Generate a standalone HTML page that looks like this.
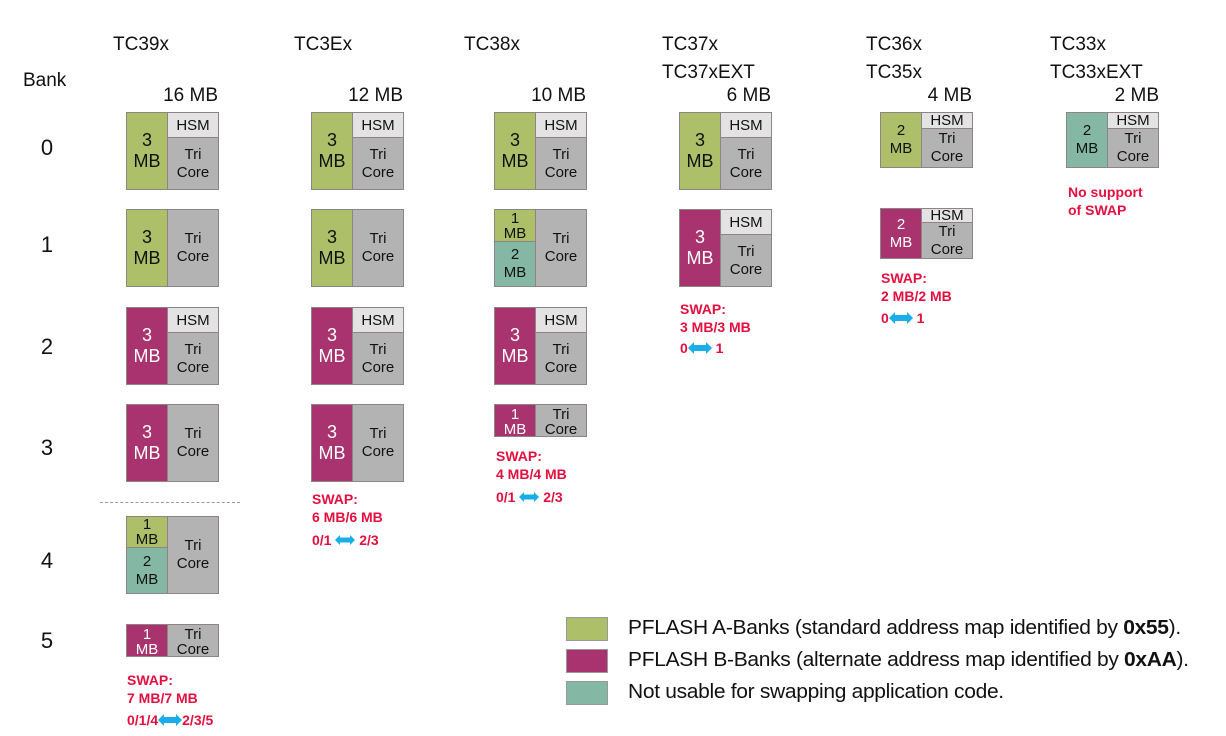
<!DOCTYPE html>
<html><head><meta charset="utf-8">
<style>
body{margin:0;width:1226px;height:736px;background:#fff;position:relative;overflow:hidden;font-family:"Liberation Sans",Arial,sans-serif;}
.t{position:absolute;font-size:19px;color:#111;white-space:nowrap;}
.bn{position:absolute;font-size:22px;color:#111;width:30px;text-align:center;}
.sz{position:absolute;font-size:19px;color:#111;text-align:right;white-space:nowrap;}
.b{position:absolute;width:93px;border:1.5px solid #8e8484;box-sizing:border-box;background:#b3b3b3;overflow:hidden;}
.p{position:absolute;display:flex;align-items:center;justify-content:center;text-align:center;color:#111;overflow:hidden;box-sizing:border-box;}
.l{left:0;width:41px;border-right:1.5px solid #8e8484;font-size:18px;line-height:21px;}
.r{left:41px;right:0;font-size:15px;line-height:18px;}
.h{left:41px;right:0;top:0;background:#e3e3e3;font-size:15px;border-bottom:1.5px solid #8e8484;}
.g{background:#adbf69;}
.m{background:#a8336f;color:#fff;}
.c{background:#84b8a4;}
.sw{position:absolute;color:#e3103f;font-weight:bold;font-size:14px;line-height:18px;white-space:nowrap;}
.lg{position:absolute;left:566px;width:42px;height:24px;border:1px solid #999;box-sizing:border-box;}
.lt{position:absolute;left:628px;font-size:20px;color:#111;white-space:nowrap;letter-spacing:-0.3px;transform:scaleX(1.05);transform-origin:0 0;}
</style></head><body>

<div class="t" style="left:113px;top:34px">TC39x</div>
<div class="t" style="left:294px;top:34px">TC3Ex</div>
<div class="t" style="left:464px;top:34px">TC38x</div>
<div class="t" style="left:662px;top:34px">TC37x</div>
<div class="t" style="left:662px;top:62px">TC37xEXT</div>
<div class="t" style="left:866px;top:34px">TC36x</div>
<div class="t" style="left:866px;top:62px">TC35x</div>
<div class="t" style="left:1050px;top:34px">TC33x</div>
<div class="t" style="left:1050px;top:62px">TC33xEXT</div>
<div class="t" style="left:23px;top:70px">Bank</div>

<div class="sz" style="right:1008px;top:85px">16 MB</div>
<div class="sz" style="right:823px;top:85px">12 MB</div>
<div class="sz" style="right:640px;top:85px">10 MB</div>
<div class="sz" style="right:455px;top:85px">6 MB</div>
<div class="sz" style="right:254px;top:85px">4 MB</div>
<div class="sz" style="right:67px;top:85px">2 MB</div>

<div class="bn" style="left:32px;top:135px">0</div>
<div class="bn" style="left:32px;top:232px">1</div>
<div class="bn" style="left:32px;top:334px">2</div>
<div class="bn" style="left:32px;top:435px">3</div>
<div class="bn" style="left:32px;top:548px">4</div>
<div class="bn" style="left:32px;top:628px">5</div>

<div style="position:absolute;left:100px;top:502px;width:140px;border-top:1px dashed #999"></div>

<!-- TC39x -->
<div class="b" style="left:126px;top:112px;height:78px"><div class="p l g" style="top:0;height:100%">3<br>MB</div><div class="p h" style="height:25px">HSM</div><div class="p r" style="top:25px;bottom:0">Tri<br>Core</div></div>
<div class="b" style="left:126px;top:209px;height:78px"><div class="p l g" style="top:0;height:100%">3<br>MB</div><div class="p r" style="top:0;bottom:0">Tri<br>Core</div></div>
<div class="b" style="left:126px;top:307px;height:78px"><div class="p l m" style="top:0;height:100%">3<br>MB</div><div class="p h" style="height:25px">HSM</div><div class="p r" style="top:25px;bottom:0">Tri<br>Core</div></div>
<div class="b" style="left:126px;top:404px;height:78px"><div class="p l m" style="top:0;height:100%">3<br>MB</div><div class="p r" style="top:0;bottom:0">Tri<br>Core</div></div>
<div class="b" style="left:126px;top:516px;height:78px"><div class="p l g" style="top:0;height:31px;font-size:15px;line-height:15px;border-bottom:1.5px solid #8e8484">1<br>MB</div><div class="p l c" style="top:31px;bottom:0;font-size:15px;line-height:18px">2<br>MB</div><div class="p r" style="top:0;bottom:0">Tri<br>Core</div></div>
<div class="b" style="left:126px;top:624px;height:33px"><div class="p l m" style="top:0;height:100%;font-size:15px;line-height:15px;padding-top:2px">1<br>MB</div><div class="p r" style="top:0;bottom:0;line-height:15px;padding-top:2px">Tri<br>Core</div></div>
<div class="sw" style="left:127px;top:671px">SWAP:<br>7 MB/7 MB</div>
<div class="sw" style="left:127px;top:711px">0/1/4<svg width="24" height="14" viewBox="0 0 24 12" style="vertical-align:-2px"><path d="M0 6L6 0V3H18V0L24 6L18 12V9H6V12Z" fill="#1aaee8"/></svg>2/3/5</div>

<!-- TC3Ex -->
<div class="b" style="left:311px;top:112px;height:78px"><div class="p l g" style="top:0;height:100%">3<br>MB</div><div class="p h" style="height:25px">HSM</div><div class="p r" style="top:25px;bottom:0">Tri<br>Core</div></div>
<div class="b" style="left:311px;top:209px;height:78px"><div class="p l g" style="top:0;height:100%">3<br>MB</div><div class="p r" style="top:0;bottom:0">Tri<br>Core</div></div>
<div class="b" style="left:311px;top:307px;height:78px"><div class="p l m" style="top:0;height:100%">3<br>MB</div><div class="p h" style="height:25px">HSM</div><div class="p r" style="top:25px;bottom:0">Tri<br>Core</div></div>
<div class="b" style="left:311px;top:404px;height:78px"><div class="p l m" style="top:0;height:100%">3<br>MB</div><div class="p r" style="top:0;bottom:0">Tri<br>Core</div></div>
<div class="sw" style="left:312px;top:490px">SWAP:<br>6 MB/6 MB</div>
<div class="sw" style="left:312px;top:531px">0/1 <svg width="20" height="14" viewBox="0 0 24 12" style="vertical-align:-2px"><path d="M0 6L6 0V3H18V0L24 6L18 12V9H6V12Z" fill="#1aaee8"/></svg> 2/3</div>

<!-- TC38x -->
<div class="b" style="left:494px;top:112px;height:78px"><div class="p l g" style="top:0;height:100%">3<br>MB</div><div class="p h" style="height:25px">HSM</div><div class="p r" style="top:25px;bottom:0">Tri<br>Core</div></div>
<div class="b" style="left:494px;top:209px;height:78px"><div class="p l g" style="top:0;height:32px;font-size:15px;line-height:15px;border-bottom:1.5px solid #8e8484">1<br>MB</div><div class="p l c" style="top:32px;bottom:0;font-size:15px;line-height:18px">2<br>MB</div><div class="p r" style="top:0;bottom:0">Tri<br>Core</div></div>
<div class="b" style="left:494px;top:307px;height:78px"><div class="p l m" style="top:0;height:100%">3<br>MB</div><div class="p h" style="height:25px">HSM</div><div class="p r" style="top:25px;bottom:0">Tri<br>Core</div></div>
<div class="b" style="left:494px;top:404px;height:33px"><div class="p l m" style="top:0;height:100%;font-size:15px;line-height:15px;padding-top:2px">1<br>MB</div><div class="p r" style="top:0;bottom:0;line-height:15px;padding-top:2px">Tri<br>Core</div></div>
<div class="sw" style="left:496px;top:447px">SWAP:<br>4 MB/4 MB</div>
<div class="sw" style="left:496px;top:488px">0/1 <svg width="20" height="14" viewBox="0 0 24 12" style="vertical-align:-2px"><path d="M0 6L6 0V3H18V0L24 6L18 12V9H6V12Z" fill="#1aaee8"/></svg> 2/3</div>

<!-- TC37x -->
<div class="b" style="left:679px;top:112px;height:78px"><div class="p l g" style="top:0;height:100%">3<br>MB</div><div class="p h" style="height:25px">HSM</div><div class="p r" style="top:25px;bottom:0">Tri<br>Core</div></div>
<div class="b" style="left:679px;top:209px;height:78px"><div class="p l m" style="top:0;height:100%">3<br>MB</div><div class="p h" style="height:25px">HSM</div><div class="p r" style="top:25px;bottom:0">Tri<br>Core</div></div>
<div class="sw" style="left:680px;top:300px">SWAP:<br>3 MB/3 MB</div>
<div class="sw" style="left:680px;top:339px">0<svg width="24" height="14" viewBox="0 0 24 12" style="vertical-align:-2px"><path d="M0 6L6 0V3H18V0L24 6L18 12V9H6V12Z" fill="#1aaee8"/></svg> 1</div>

<!-- TC36x -->
<div class="b" style="left:880px;top:112px;height:56px"><div class="p l g" style="top:0;height:100%;font-size:15px;line-height:18px">2<br>MB</div><div class="p h" style="height:16px">HSM</div><div class="p r" style="top:16px;bottom:0">Tri<br>Core</div></div>
<div class="b" style="left:880px;top:208px;height:51px"><div class="p l m" style="top:0;height:100%;font-size:15px;line-height:18px">2<br>MB</div><div class="p h" style="height:14px">HSM</div><div class="p r" style="top:14px;bottom:0">Tri<br>Core</div></div>
<div class="sw" style="left:881px;top:269px">SWAP:<br>2 MB/2 MB</div>
<div class="sw" style="left:881px;top:309px">0<svg width="24" height="14" viewBox="0 0 24 12" style="vertical-align:-2px"><path d="M0 6L6 0V3H18V0L24 6L18 12V9H6V12Z" fill="#1aaee8"/></svg> 1</div>

<!-- TC33x -->
<div class="b" style="left:1066px;top:112px;height:56px"><div class="p l c" style="top:0;height:100%;font-size:15px;line-height:18px">2<br>MB</div><div class="p h" style="height:16px">HSM</div><div class="p r" style="top:16px;bottom:0">Tri<br>Core</div></div>
<div class="sw" style="left:1068px;top:183px">No support<br>of SWAP</div>

<!-- Legend -->
<div class="lg g" style="top:617px"></div>
<div class="lg m" style="top:649px"></div>
<div class="lg c" style="top:681px"></div>
<div class="lt" style="top:617px">PFLASH A-Banks (standard address map identified by <b>0x55</b>).</div>
<div class="lt" style="top:649px">PFLASH B-Banks (alternate address map identified by <b>0xAA</b>).</div>
<div class="lt" style="top:681px">Not usable for swapping application code.</div>

</body></html>
